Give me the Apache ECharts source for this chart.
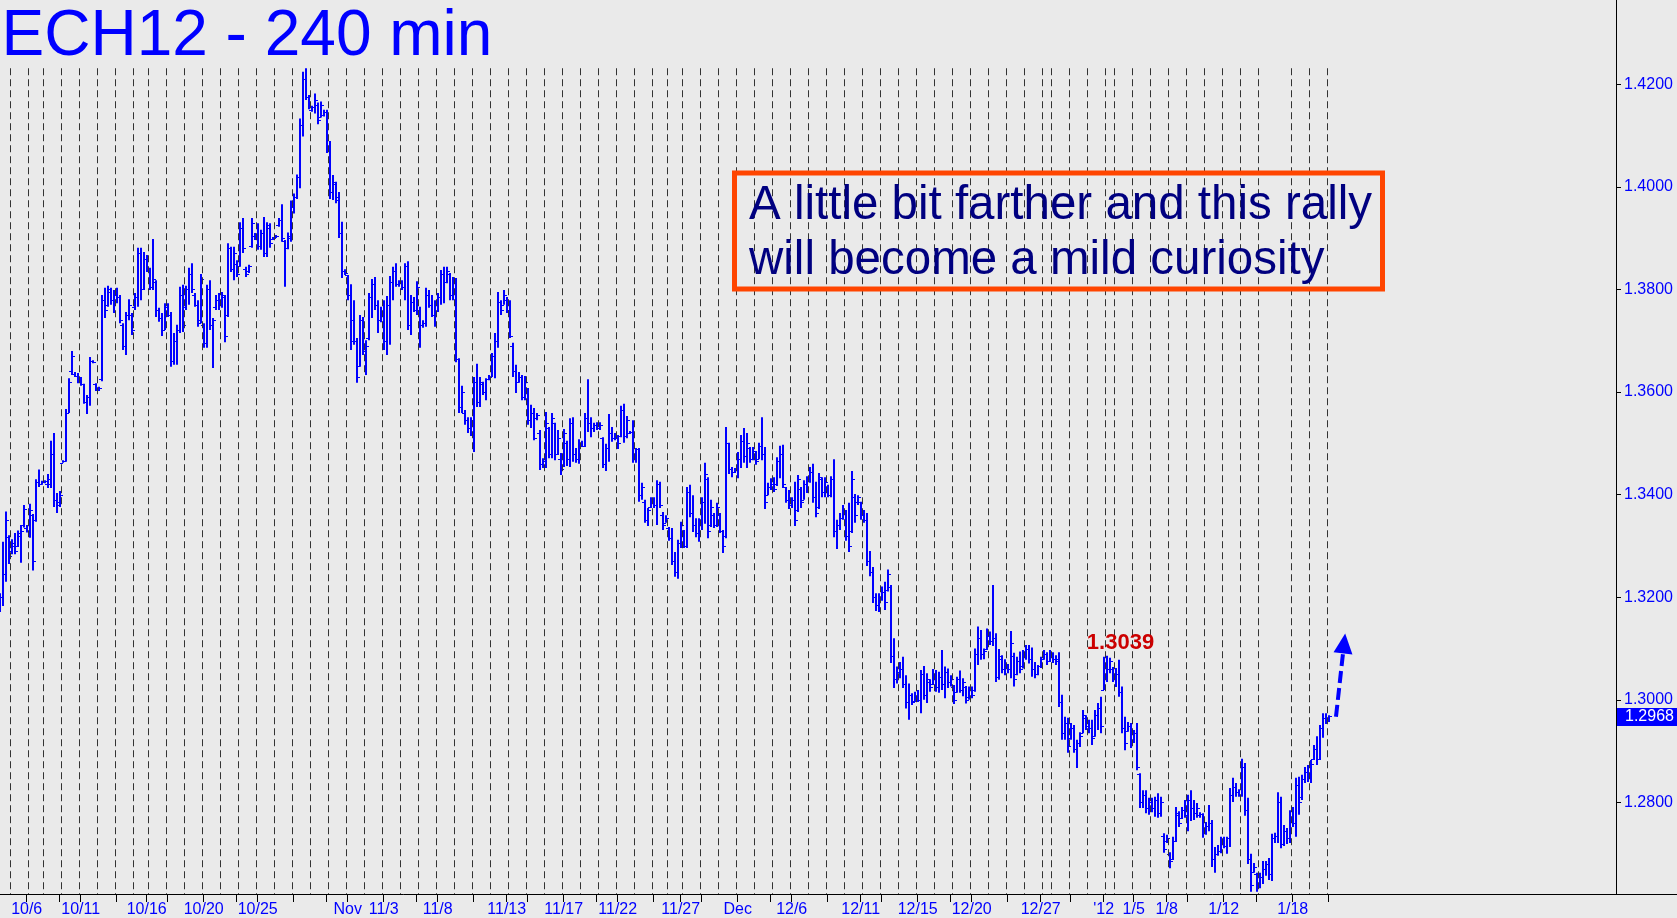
<!DOCTYPE html>
<html><head><meta charset="utf-8">
<script src="https://cdn.jsdelivr.net/npm/echarts@6/dist/echarts.min.js"></script>
<style>html,body{margin:0;padding:0;background:#EAEAEA;}#c{width:1677px;height:918px;}</style>
</head><body><div id="c"></div>
<script>
// 240-minute OHLC bars, index 0..443
const highs = [
1.3208,1.3308,1.3367,1.3321,1.3313,1.3325,1.3330,1.3341,1.3380,1.3341,
1.3382,1.3362,1.3430,1.3449,1.3427,1.3428,1.3440,1.3505,1.3520,1.3403,
1.3407,1.3467,1.3567,1.3627,1.3680,1.3639,1.3637,1.3629,1.3616,1.3594,
1.3668,1.3662,1.3617,1.3610,1.3789,1.3803,1.3807,1.3803,1.3799,1.3803,
1.3789,1.3734,1.3756,1.3781,1.3754,1.3793,1.3881,1.3881,1.3873,1.3867,
1.3842,1.3898,1.3818,1.3764,1.3754,1.3773,1.3773,1.3756,1.3715,1.3731,
1.3805,1.3809,1.3807,1.3842,1.3851,1.3793,1.3779,1.3830,1.3734,1.3809,
1.3818,1.3744,1.3789,1.3793,1.3795,1.3789,1.3890,1.3883,1.3883,1.3857,
1.3931,1.3939,1.3844,1.3848,1.3939,1.3910,1.3929,1.3916,1.3941,1.3931,
1.3929,1.3902,1.3906,1.3939,1.3966,1.3896,1.3911,1.3973,1.3987,1.4024,
1.4133,1.4224,1.4231,1.4179,1.4158,1.4182,1.4164,1.4166,1.4150,1.4150,
1.4089,1.4023,1.4010,1.3990,1.3932,1.3839,1.3828,1.3810,1.3779,1.3705,
1.3750,1.3746,1.3701,1.3793,1.3820,1.3824,1.3779,1.3766,1.3779,1.3787,
1.3826,1.3844,1.3851,1.3818,1.3818,1.3851,1.3855,1.3789,1.3785,1.3816,
1.3766,1.3740,1.3803,1.3799,1.3789,1.3779,1.3793,1.3838,1.3844,1.3844,
1.3832,1.3824,1.3822,1.3666,1.3612,1.3565,1.3551,1.3551,1.3629,1.3655,
1.3629,1.3620,1.3627,1.3633,1.3676,1.3715,1.3795,1.3779,1.3799,1.3785,
1.3779,1.3696,1.3653,1.3639,1.3633,1.3631,1.3608,1.3575,1.3569,1.3559,
1.3526,1.3471,1.3561,1.3532,1.3559,1.3540,1.3526,1.3481,1.3528,1.3505,
1.3549,1.3551,1.3491,1.3508,1.3505,1.3559,1.3625,1.3551,1.3540,1.3541,
1.3541,1.3512,1.3499,1.3557,1.3532,1.3520,1.3516,1.3573,1.3577,1.3553,
1.3524,1.3545,1.3491,1.3491,1.3423,1.3390,1.3374,1.3395,1.3395,1.3428,
1.3425,1.3366,1.3360,1.3337,1.3335,1.3288,1.3312,1.3347,1.3331,1.3415,
1.3419,1.3399,1.3354,1.3354,1.3395,1.3462,1.3434,1.3390,1.3364,1.3384,
1.3364,1.3331,1.3532,1.3501,1.3454,1.3452,1.3483,1.3516,1.3530,1.3520,
1.3493,1.3493,1.3485,1.3501,1.3551,1.3493,1.3423,1.3432,1.3434,1.3473,
1.3495,1.3497,1.3415,1.3409,1.3395,1.3425,1.3438,1.3415,1.3428,1.3436,
1.3454,1.3460,1.3425,1.3442,1.3434,1.3434,1.3419,1.3436,1.3469,1.3351,
1.3364,1.3380,1.3370,1.3384,1.3446,1.3401,1.3399,1.3386,1.3370,1.3364,
1.3290,1.3259,1.3208,1.3208,1.3221,1.3230,1.3254,1.3224,1.3120,1.3065,
1.3074,1.3084,1.3048,1.3032,1.3013,1.3016,1.3019,1.3058,1.3066,1.3052,
1.3040,1.3060,1.3058,1.3055,1.3097,1.3065,1.3061,1.3048,1.3029,1.3045,
1.3057,1.3042,1.3027,1.3026,1.3026,1.3100,1.3143,1.3136,1.3100,1.3139,
1.3133,1.3224,1.3130,1.3099,1.3087,1.3079,1.3070,1.3134,1.3092,1.3084,
1.3094,1.3097,1.3107,1.3107,1.3102,1.3074,1.3068,1.3084,1.3097,1.3093,
1.3097,1.3093,1.3087,1.3093,1.3010,1.2967,1.2965,1.2955,1.2951,1.2922,
1.2937,1.2980,1.2970,1.2961,1.2961,1.2980,1.2994,1.3006,1.3084,1.3086,
1.3082,1.3064,1.3062,1.3078,1.3026,1.2967,1.2957,1.2955,1.2941,1.2955,
1.2857,1.2824,1.2824,1.2809,1.2809,1.2811,1.2818,1.2811,1.2740,1.2737,
1.2703,1.2733,1.2791,1.2783,1.2791,1.2805,1.2815,1.2824,1.2805,1.2799,
1.2781,1.2779,1.2762,1.2795,1.2766,1.2713,1.2717,1.2733,1.2733,1.2733,
1.2828,1.2848,1.2838,1.2826,1.2885,1.2877,1.2809,1.2700,1.2682,1.2663,
1.2663,1.2686,1.2686,1.2692,1.2739,1.2741,1.2820,1.2811,1.2756,1.2750,
1.2785,1.2791,1.2848,1.2850,1.2854,1.2869,1.2873,1.2883,1.2912,1.2929,
1.2951,1.2974,1.2974,1.2970];
const lows = [
1.3171,1.3183,1.3230,1.3265,1.3284,1.3284,1.3298,1.3267,1.3336,1.3326,
1.3316,1.3252,1.3347,1.3415,1.3419,1.3422,1.3413,1.3413,1.3376,1.3364,
1.3376,1.3462,1.3464,1.3559,1.3633,1.3629,1.3617,1.3612,1.3577,1.3557,
1.3573,1.3656,1.3602,1.3602,1.3621,1.3744,1.3766,1.3770,1.3754,1.3773,
1.3734,1.3682,1.3672,1.3740,1.3711,1.3760,1.3766,1.3779,1.3799,1.3834,
1.3799,1.3799,1.3746,1.3737,1.3709,1.3721,1.3746,1.3649,1.3653,1.3653,
1.3715,1.3717,1.3760,1.3770,1.3793,1.3766,1.3727,1.3734,1.3686,1.3686,
1.3721,1.3647,1.3760,1.3760,1.3764,1.3697,1.3746,1.3834,1.3818,1.3824,
1.3844,1.3871,1.3824,1.3832,1.3881,1.3896,1.3877,1.3877,1.3863,1.3863,
1.3881,1.3896,1.3900,1.3922,1.3893,1.3805,1.3878,1.3893,1.3948,1.3976,
1.3997,1.4098,1.4169,1.4151,1.4146,1.4143,1.4122,1.4135,1.4137,1.4066,
1.3976,1.3974,1.3968,1.3900,1.3822,1.3828,1.3779,1.3682,1.3692,1.3618,
1.3649,1.3672,1.3633,1.3701,1.3744,1.3760,1.3715,1.3736,1.3682,1.3672,
1.3692,1.3779,1.3805,1.3805,1.3799,1.3779,1.3721,1.3711,1.3756,1.3750,
1.3686,1.3725,1.3727,1.3764,1.3746,1.3727,1.3756,1.3770,1.3773,1.3812,
1.3779,1.3779,1.3658,1.3559,1.3559,1.3536,1.3520,1.3514,1.3483,1.3571,
1.3571,1.3594,1.3584,1.3623,1.3629,1.3627,1.3686,1.3750,1.3770,1.3754,
1.3705,1.3629,1.3598,1.3618,1.3584,1.3584,1.3536,1.3530,1.3506,1.3545,
1.3448,1.3452,1.3452,1.3471,1.3471,1.3467,1.3477,1.3438,1.3454,1.3456,
1.3454,1.3464,1.3462,1.3460,1.3493,1.3493,1.3522,1.3512,1.3522,1.3526,
1.3526,1.3452,1.3446,1.3464,1.3503,1.3506,1.3489,1.3512,1.3501,1.3510,
1.3518,1.3462,1.3462,1.3386,1.3390,1.3345,1.3339,1.3374,1.3374,1.3341,
1.3374,1.3331,1.3345,1.3310,1.3263,1.3240,1.3236,1.3296,1.3296,1.3296,
1.3356,1.3327,1.3317,1.3308,1.3331,1.3343,1.3315,1.3337,1.3335,1.3337,
1.3325,1.3286,1.3315,1.3440,1.3434,1.3442,1.3432,1.3452,1.3462,1.3452,
1.3462,1.3467,1.3458,1.3469,1.3467,1.3372,1.3399,1.3409,1.3405,1.3417,
1.3432,1.3413,1.3384,1.3372,1.3374,1.3339,1.3366,1.3374,1.3390,1.3403,
1.3423,1.3384,1.3356,1.3372,1.3395,1.3395,1.3395,1.3395,1.3317,1.3294,
1.3331,1.3351,1.3310,1.3288,1.3325,1.3345,1.3380,1.3351,1.3345,1.3261,
1.3241,1.3189,1.3173,1.3171,1.3193,1.3175,1.3211,1.3072,1.3023,1.3032,
1.3042,1.3023,1.2983,1.2961,1.2990,1.2996,1.2996,1.2974,1.3000,1.2994,
1.3016,1.3029,1.3016,1.3014,1.3019,1.3003,1.3023,1.3026,1.2992,1.3014,
1.3014,1.3007,1.2993,1.3000,1.3003,1.3016,1.3068,1.3078,1.3079,1.3097,
1.3107,1.3105,1.3035,1.3039,1.3052,1.3048,1.3052,1.3042,1.3026,1.3048,
1.3052,1.3061,1.3078,1.3071,1.3045,1.3042,1.3048,1.3062,1.3078,1.3068,
1.3074,1.3072,1.3068,1.2986,1.2922,1.2922,1.2897,1.2922,1.2897,1.2867,
1.2908,1.2935,1.2941,1.2935,1.2912,1.2928,1.2941,1.2935,1.3019,1.3035,
1.3052,1.3035,1.3025,1.3006,1.2935,1.2902,1.2938,1.2906,1.2916,1.2863,
1.2789,1.2789,1.2779,1.2776,1.2781,1.2772,1.2770,1.2772,1.2702,1.2721,
1.2672,1.2688,1.2723,1.2752,1.2768,1.2770,1.2744,1.2764,1.2766,1.2770,
1.2770,1.2731,1.2737,1.2744,1.2674,1.2663,1.2696,1.2701,1.2711,1.2700,
1.2713,1.2801,1.2811,1.2811,1.2811,1.2774,1.2680,1.2626,1.2663,1.2626,
1.2633,1.2641,1.2657,1.2649,1.2647,1.2721,1.2721,1.2711,1.2715,1.2719,
1.2721,1.2752,1.2733,1.2776,1.2805,1.2838,1.2840,1.2838,1.2883,1.2873,
1.2883,1.2926,1.2953,1.2957];
const opens = [
1.3175,1.3200,1.3245,1.3318,1.3290,1.3300,1.3300,1.3320,1.3340,1.3335,
1.3330,1.3360,1.3350,1.3425,1.3420,1.3424,1.3420,1.3420,1.3480,1.3390,
1.3385,1.3462,1.3466,1.3560,1.3640,1.3635,1.3632,1.3620,1.3615,1.3580,
1.3590,1.3660,1.3615,1.3605,1.3625,1.3780,1.3770,1.3795,1.3780,1.3790,
1.3785,1.3730,1.3690,1.3750,1.3750,1.3765,1.3785,1.3870,1.3800,1.3860,
1.3840,1.3805,1.3815,1.3760,1.3745,1.3720,1.3765,1.3750,1.3660,1.3700,
1.3720,1.3790,1.3765,1.3800,1.3830,1.3790,1.3770,1.3740,1.3730,1.3695,
1.3800,1.3730,1.3765,1.3780,1.3770,1.3785,1.3750,1.3880,1.3840,1.3850,
1.3845,1.3920,1.3840,1.3835,1.3885,1.3905,1.3900,1.3885,1.3910,1.3870,
1.3920,1.3898,1.3902,1.3925,1.3935,1.3895,1.3880,1.3900,1.3960,1.3980,
1.4020,1.4120,1.4210,1.4175,1.4150,1.4155,1.4160,1.4135,1.4140,1.4145,
1.4075,1.3990,1.4005,1.3980,1.3910,1.3835,1.3828,1.3790,1.3740,1.3700,
1.3650,1.3740,1.3680,1.3705,1.3785,1.3810,1.3770,1.3740,1.3750,1.3700,
1.3770,1.3815,1.3835,1.3810,1.3815,1.3805,1.3845,1.3730,1.3775,1.3760,
1.3760,1.3730,1.3735,1.3790,1.3770,1.3750,1.3770,1.3785,1.3830,1.3815,
1.3830,1.3790,1.3815,1.3665,1.3570,1.3560,1.3545,1.3530,1.3545,1.3620,
1.3580,1.3615,1.3600,1.3625,1.3630,1.3670,1.3700,1.3775,1.3770,1.3780,
1.3760,1.3690,1.3640,1.3620,1.3630,1.3590,1.3600,1.3545,1.3560,1.3550,
1.3520,1.3460,1.3465,1.3530,1.3480,1.3540,1.3480,1.3470,1.3455,1.3500,
1.3470,1.3540,1.3480,1.3470,1.3500,1.3495,1.3550,1.3540,1.3530,1.3535,
1.3530,1.3510,1.3460,1.3490,1.3520,1.3510,1.3510,1.3515,1.3565,1.3515,
1.3520,1.3522,1.3470,1.3488,1.3400,1.3385,1.3350,1.3375,1.3390,1.3380,
1.3420,1.3360,1.3345,1.3335,1.3315,1.3270,1.3250,1.3305,1.3330,1.3300,
1.3405,1.3365,1.3340,1.3325,1.3345,1.3385,1.3430,1.3340,1.3360,1.3340,
1.3360,1.3330,1.3320,1.3500,1.3450,1.3445,1.3448,1.3470,1.3505,1.3475,
1.3490,1.3470,1.3480,1.3470,1.3495,1.3480,1.3400,1.3415,1.3420,1.3420,
1.3465,1.3480,1.3415,1.3390,1.3380,1.3390,1.3370,1.3410,1.3390,1.3420,
1.3430,1.3445,1.3395,1.3375,1.3430,1.3405,1.3415,1.3400,1.3430,1.3330,
1.3340,1.3355,1.3365,1.3320,1.3330,1.3395,1.3385,1.3385,1.3360,1.3350,
1.3270,1.3250,1.3200,1.3185,1.3200,1.3210,1.3215,1.3220,1.3085,1.3040,
1.3055,1.3060,1.3030,1.2995,1.3010,1.2998,1.3005,1.3000,1.3050,1.3010,
1.3035,1.3030,1.3050,1.3025,1.3045,1.3030,1.3055,1.3035,1.3025,1.3015,
1.3040,1.3020,1.3025,1.3005,1.3020,1.3020,1.3090,1.3120,1.3090,1.3100,
1.3125,1.3115,1.3120,1.3045,1.3080,1.3060,1.3065,1.3060,1.3085,1.3050,
1.3075,1.3065,1.3090,1.3100,1.3080,1.3060,1.3050,1.3065,1.3080,1.3090,
1.3075,1.3090,1.3080,1.3080,1.2995,1.2935,1.2955,1.2925,1.2945,1.2905,
1.2915,1.2935,1.2965,1.2950,1.2945,1.2930,1.2970,1.2985,1.3020,1.3070,
1.3060,1.3060,1.3040,1.3050,1.3015,1.2945,1.2940,1.2950,1.2920,1.2935,
1.2855,1.2800,1.2815,1.2790,1.2800,1.2790,1.2805,1.2780,1.2735,1.2725,
1.2700,1.2690,1.2725,1.2775,1.2770,1.2785,1.2775,1.2805,1.2790,1.2780,
1.2775,1.2778,1.2740,1.2755,1.2760,1.2690,1.2700,1.2705,1.2725,1.2715,
1.2730,1.2815,1.2830,1.2820,1.2815,1.2870,1.2785,1.2690,1.2665,1.2660,
1.2640,1.2655,1.2670,1.2680,1.2660,1.2730,1.2735,1.2800,1.2720,1.2745,
1.2730,1.2770,1.2760,1.2835,1.2810,1.2845,1.2860,1.2850,1.2885,1.2905,
1.2885,1.2945,1.2965,1.2960];
const closes = [
1.3200,1.3245,1.3351,1.3280,1.3305,1.3290,1.3325,1.3330,1.3372,1.3330,
1.3370,1.3270,1.3425,1.3420,1.3424,1.3426,1.3430,1.3480,1.3390,1.3380,
1.3400,1.3466,1.3560,1.3620,1.3670,1.3632,1.3620,1.3615,1.3580,1.3590,
1.3660,1.3658,1.3605,1.3608,1.3780,1.3760,1.3800,1.3780,1.3790,1.3785,
1.3740,1.3690,1.3750,1.3770,1.3720,1.3785,1.3870,1.3800,1.3860,1.3840,
1.3805,1.3820,1.3760,1.3745,1.3720,1.3765,1.3750,1.3660,1.3700,1.3720,
1.3790,1.3730,1.3800,1.3830,1.3800,1.3770,1.3735,1.3820,1.3695,1.3800,
1.3730,1.3740,1.3780,1.3770,1.3790,1.3710,1.3880,1.3840,1.3870,1.3830,
1.3920,1.3880,1.3830,1.3845,1.3930,1.3900,1.3885,1.3910,1.3870,1.3925,
1.3890,1.3900,1.3904,1.3935,1.3900,1.3880,1.3905,1.3965,1.3980,1.4020,
1.4120,1.4210,1.4175,1.4155,1.4155,1.4170,1.4130,1.4160,1.4145,1.4075,
1.3990,1.4010,1.3975,1.3910,1.3835,1.3832,1.3790,1.3700,1.3700,1.3630,
1.3740,1.3680,1.3690,1.3785,1.3810,1.3770,1.3740,1.3750,1.3700,1.3770,
1.3815,1.3835,1.3810,1.3815,1.3805,1.3845,1.3730,1.3775,1.3760,1.3805,
1.3730,1.3735,1.3790,1.3770,1.3750,1.3770,1.3785,1.3830,1.3815,1.3835,
1.3790,1.3815,1.3665,1.3570,1.3600,1.3545,1.3530,1.3545,1.3620,1.3580,
1.3620,1.3600,1.3625,1.3630,1.3670,1.3700,1.3775,1.3760,1.3790,1.3760,
1.3710,1.3640,1.3620,1.3630,1.3590,1.3620,1.3545,1.3560,1.3510,1.3555,
1.3460,1.3465,1.3540,1.3480,1.3550,1.3480,1.3510,1.3450,1.3520,1.3470,
1.3540,1.3480,1.3470,1.3500,1.3495,1.3550,1.3540,1.3530,1.3535,1.3530,
1.3535,1.3460,1.3490,1.3520,1.3510,1.3515,1.3500,1.3565,1.3515,1.3545,
1.3522,1.3470,1.3488,1.3400,1.3415,1.3350,1.3370,1.3390,1.3380,1.3420,
1.3380,1.3340,1.3355,1.3315,1.3270,1.3250,1.3305,1.3340,1.3300,1.3405,
1.3365,1.3340,1.3325,1.3345,1.3385,1.3440,1.3330,1.3375,1.3340,1.3375,
1.3330,1.3300,1.3500,1.3450,1.3445,1.3448,1.3470,1.3505,1.3475,1.3500,
1.3470,1.3485,1.3465,1.3495,1.3480,1.3385,1.3415,1.3420,1.3410,1.3465,
1.3480,1.3420,1.3390,1.3380,1.3390,1.3350,1.3430,1.3385,1.3420,1.3430,
1.3445,1.3395,1.3365,1.3435,1.3405,1.3425,1.3400,1.3430,1.3330,1.3340,
1.3355,1.3370,1.3320,1.3300,1.3430,1.3360,1.3395,1.3360,1.3350,1.3270,
1.3250,1.3200,1.3185,1.3200,1.3210,1.3190,1.3245,1.3085,1.3040,1.3055,
1.3060,1.3030,1.2995,1.3010,1.2995,1.3005,1.3000,1.3050,1.3010,1.3040,
1.3025,1.3050,1.3025,1.3045,1.3030,1.3055,1.3035,1.3040,1.3000,1.3040,
1.3020,1.3035,1.3000,1.3020,1.3010,1.3090,1.3120,1.3090,1.3095,1.3130,
1.3115,1.3120,1.3045,1.3085,1.3060,1.3070,1.3060,1.3110,1.3040,1.3075,
1.3060,1.3090,1.3100,1.3080,1.3060,1.3050,1.3065,1.3080,1.3090,1.3075,
1.3090,1.3080,1.3075,1.2995,1.2935,1.2955,1.2910,1.2945,1.2905,1.2915,
1.2930,1.2970,1.2950,1.2945,1.2925,1.2970,1.2985,1.2950,1.3070,1.3060,
1.3075,1.3040,1.3050,1.3015,1.2945,1.2915,1.2950,1.2920,1.2935,1.2870,
1.2800,1.2815,1.2790,1.2800,1.2790,1.2805,1.2780,1.2800,1.2710,1.2730,
1.2685,1.2725,1.2780,1.2760,1.2785,1.2775,1.2805,1.2790,1.2780,1.2790,
1.2778,1.2740,1.2755,1.2760,1.2690,1.2700,1.2705,1.2725,1.2715,1.2730,
1.2815,1.2830,1.2820,1.2815,1.2870,1.2785,1.2690,1.2640,1.2675,1.2640,
1.2655,1.2670,1.2680,1.2660,1.2730,1.2735,1.2800,1.2720,1.2745,1.2730,
1.2770,1.2760,1.2835,1.2800,1.2845,1.2860,1.2850,1.2875,1.2905,1.2885,
1.2945,1.2965,1.2960,1.2968];

// last bar index of each trading session (dashed separators drawn after these bars)
const sessionEnds = [3,9,14,20,26,32,38,44,49,55,61,67,73,79,85,91,97,103,109,115,121,127,133,139,145,151,157,163,169,175,181,187,193,199,205,211,217,222,227,233,239,245,251,257,263,269,275,281,287,293,299,305,311,317,323,329,335,341,347,350,356,362,368,371,377,383,389,395,401,407,413,419,430,436,442];
// date labels (bar index -> text)
const dateLabelIdx = [9,27,49,68,86,116,128,146,169,188,206,227,246,264,287,306,324,347,368,378,389,408,431];
const dateLabels = ['10/6','10/11','10/16','10/20','10/25','Nov','11/3','11/8','11/13','11/17','11/22','11/27','Dec','12/6','12/11','12/15','12/20','12/27',"'12",'1/5','1/8','1/12','1/18'];
const extraTickIdx = [20,39,56,79,98,109,139,158,176,199,218,234,257,276,294,317,336,357,396,419,443];
const priceTicks = [1.28,1.30,1.32,1.34,1.36,1.38,1.40,1.42];
const lastPrice = 1.2968;
const pivotText = '1.3039';
const pivotPos = [373.6, 1.3111];
const arrowFrom = [445.43, 1.2967];
const arrowTo = [448.13, 1.3110];

const FONT = '"Liberation Sans", Arial, Helvetica, sans-serif';
const BLUE = '#0000FF';
const data = highs.map((h, i) => [i, opens[i], h, lows[i], closes[i]]);

function renderItem(params, api) {
  const i = api.value(0);
  const o = api.coord([i, api.value(1)]);
  const h = api.coord([i, api.value(2)]);
  const l = api.coord([i, api.value(3)]);
  const c = api.coord([i, api.value(4)]);
  const x = Math.round(h[0]);
  let yTop = h[1], yBot = l[1];
  if (yBot - yTop < 1.5) { yBot = yTop + 1.5; }
  const oy = Math.round(o[1]) + 0.5, cy = Math.round(c[1]) + 0.5;
  return {
    type: 'group',
    children: [
      {type: 'line', shape: {x1: x, y1: yTop, x2: x, y2: yBot}, style: {stroke: BLUE, lineWidth: 2}},
      {type: 'line', shape: {x1: x - 3, y1: oy, x2: x, y2: oy}, style: {stroke: BLUE, lineWidth: 1}},
      {type: 'line', shape: {x1: x, y1: cy, x2: x + 3, y2: cy}, style: {stroke: BLUE, lineWidth: 1}}
    ]
  };
}

const chart = echarts.init(document.getElementById('c'), null, {renderer: 'canvas'});
const option = {
  backgroundColor: '#EAEAEA',
  animation: false,
  grid: {left: 0, right: 61, top: 0, bottom: 24, containLabel: false, outerBoundsMode: 'none'},
  xAxis: {
    type: 'value', min: 0.1, max: 0.1 + 1616 / 3, position: 'bottom',
    axisLine: {show: true, onZero: false, lineStyle: {color: '#000', width: 1}},
    axisTick: {show: true, customValues: dateLabelIdx.concat(extraTickIdx), length: 8, lineStyle: {color: '#000', width: 1}},
    axisLabel: {show: true, customValues: dateLabelIdx,
      formatter: v => { const k = dateLabelIdx.indexOf(Math.round(v)); return k >= 0 ? dateLabels[k] : ''; },
      color: BLUE, fontSize: 16, fontFamily: FONT, margin: 8},
    splitLine: {show: false}
  },
  yAxis: {
    type: 'value', position: 'right', min: 1.26216, max: 1.4364, scale: true,
    axisLine: {show: true, onZero: false, lineStyle: {color: '#000', width: 1}},
    axisTick: {show: true, customValues: priceTicks, length: 5, lineStyle: {color: '#000'}},
    axisLabel: {show: true, customValues: priceTicks, formatter: v => v.toFixed(4),
      color: BLUE, fontSize: 16, fontFamily: FONT, margin: 8},
    splitLine: {show: false}
  },
  series: [
    {
      type: 'line', data: [], z: 1, silent: true,
      markLine: {
        silent: true, symbol: ['none', 'none'], animation: false,
        label: {show: false},
        lineStyle: {color: '#333333', width: 1, type: [7, 4]},
        data: sessionEnds.map(k => [{coord: [k + 0.5, 1.4231]}, {coord: [k + 0.5, 1.26216]}])
      }
    },
    {
      type: 'custom', renderItem: renderItem, data: data, z: 3, clip: true,
      encode: {x: 0, y: [1, 2, 3, 4]},
      markLine: {
        silent: true, animation: false,
        data: [
          [{coord: arrowFrom, symbol: 'none'}, {coord: arrowTo, symbol: 'triangle', symbolSize: [19, 20]}]
        ],
        lineStyle: {color: BLUE, width: 4, type: [12, 5]},
        label: {show: false}
      },
      markPoint: {
        silent: true, animation: false,
        data: [{coord: pivotPos, symbol: 'rect', symbolSize: 2, itemStyle: {color: 'rgba(0,0,0,0)'},
          label: {show: true, position: 'inside', formatter: pivotText, color: '#CC0000',
            fontWeight: 'bold', fontSize: 22, fontFamily: FONT}}]
      }
    },
    {
      type: 'custom', data: [[0, lastPrice]], z: 6, silent: true, clip: false,
      encode: {x: 0, y: 1},
      renderItem: function (params, api) {
        const p = api.coord([0, api.value(1)]);
        const r = params.coordSys;
        const x0 = r.x + r.width + 1;
        return {
          type: 'group',
          children: [
            {type: 'rect', shape: {x: x0, y: Math.round(p[1]) - 8, width: 1677 - x0, height: 18}, style: {fill: BLUE}},
            {type: 'text', x: x0 + 8, y: Math.round(p[1]) + 1,
              style: {text: api.value(1).toFixed(4), fill: '#FFFFFF', fontSize: 16, fontFamily: FONT, verticalAlign: 'middle', align: 'left'}}
          ]
        };
      }
    }
  ],
  graphic: [
    {type: 'text', x: 1.5, y: 37, silent: true,
      style: {text: 'ECH12 - 240 min', fill: BLUE, fontSize: 64, fontFamily: FONT, verticalAlign: 'middle', align: 'left'}},
    {type: 'rect', silent: true, z: 10,
      shape: {x: 734.5, y: 173, width: 648, height: 116},
      style: {fill: 'none', stroke: '#FF4500', lineWidth: 5}},
    {type: 'text', x: 749, y: 206, silent: true, z: 10,
      style: {text: 'A little bit farther and this rally', fill: '#000080', fontSize: 47.5, fontFamily: FONT, verticalAlign: 'middle'}},
    {type: 'text', x: 749, y: 261, silent: true, z: 10,
      style: {text: 'will become a mild curiosity', fill: '#000080', fontSize: 47.5, fontFamily: FONT, verticalAlign: 'middle'}},
    {type: 'line', silent: true, shape: {x1: 1616, y1: 894.5, x2: 1677, y2: 894.5}, style: {stroke: '#000', lineWidth: 1}}
  ]
};
chart.setOption(option);
</script>
</body></html>
